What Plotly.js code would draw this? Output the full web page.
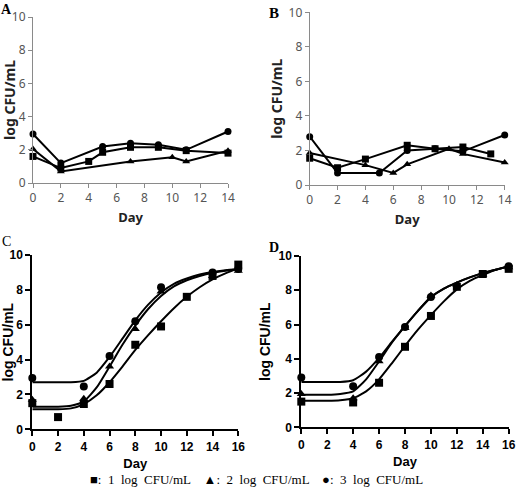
<!DOCTYPE html>
<html><head><meta charset="utf-8">
<script src="https://cdn.plot.ly/plotly-3.0.1.min.js"></script>
<style>html,body{margin:0;padding:0;background:#fff}#chart{width:516px;height:489px}</style>
</head><body><div id="chart"></div>
<script>
// ---------- Panel A ----------
const A_sq_day  = [0, 2, 4, 5, 7, 9, 11, 14];
const A_sq_val  = [1.6, 0.9, 1.3, 1.85, 2.15, 2.15, 1.95, 1.8];
const A_tri_day = [0, 2, 7, 10, 11, 14];
const A_tri_val = [2.05, 0.7, 1.3, 1.55, 1.3, 1.95];
const A_cir_day = [0, 2, 5, 7, 9, 11, 14];
const A_cir_val = [2.95, 1.2, 2.2, 2.4, 2.3, 2.0, 3.1];
// ---------- Panel B ----------
const B_sq_day  = [0, 2, 4, 7, 9, 11, 13];
const B_sq_val  = [1.55, 1.0, 1.5, 2.3, 2.1, 2.2, 1.8];
const B_tri_day = [0, 4, 6, 7, 10, 11, 14];
const B_tri_val = [1.85, 1.15, 0.7, 1.2, 2.1, 1.8, 1.3];
const B_cir_day = [0, 2, 5, 7, 9, 11, 14];
const B_cir_val = [2.8, 0.7, 0.7, 2.0, 2.1, 1.95, 2.9];
// ---------- Panel C ----------
const C_sq_day  = [0, 2, 4, 6, 8, 10, 12, 14, 16];
const C_sq_val  = [1.5, 0.7, 1.45, 2.6, 4.85, 5.9, 7.6, 8.8, 9.45];
const C_tri_day = [0, 4, 6, 8, 10, 14, 16];
const C_tri_val = [1.7, 1.75, 3.6, 5.75, 7.9, 8.8, 9.1];
const C_cir_day = [0, 4, 6, 8, 10, 14, 16];
const C_cir_val = [2.95, 2.45, 4.2, 6.2, 8.15, 9.0, 9.2];
const C_fit_day = [0, 1, 2, 3, 4, 5, 6, 7, 8, 9, 10, 11, 12, 13, 14, 15, 16];
const C_fit_sq  = [1.15, 1.15, 1.15, 1.2, 1.45, 1.95, 2.7, 3.6, 4.55, 5.4, 6.2, 6.95, 7.6, 8.15, 8.6, 8.95, 9.25];
const C_fit_tri = [1.3, 1.3, 1.3, 1.35, 1.6, 2.4, 3.6, 4.85, 5.95, 6.9, 7.65, 8.2, 8.55, 8.8, 8.98, 9.1, 9.18];
const C_fit_cir = [2.7, 2.7, 2.7, 2.7, 2.78, 3.25, 4.15, 5.2, 6.25, 7.15, 7.85, 8.35, 8.65, 8.88, 9.03, 9.13, 9.2];
// ---------- Panel D ----------
const D_sq_day  = [0, 4, 6, 8, 10, 12, 14, 16];
const D_sq_val  = [1.5, 1.45, 2.6, 4.7, 6.5, 8.2, 8.95, 9.25];
const D_tri_day = [0, 4, 6, 8, 10, 12, 14, 16];
const D_tri_val = [1.95, 1.7, 3.85, 5.8, 7.7, 8.3, 8.9, 9.35];
const D_cir_day = [0, 4, 6, 8, 10, 14, 16];
const D_cir_val = [2.9, 2.4, 4.1, 5.85, 7.6, 8.95, 9.4];
const D_fit_day = [0, 1, 2, 3, 4, 5, 6, 7, 8, 9, 10, 11, 12, 13, 14, 15, 16];
const D_fit_sq  = [1.55, 1.55, 1.55, 1.58, 1.7, 2.1, 2.8, 3.75, 4.75, 5.7, 6.55, 7.35, 8.05, 8.55, 8.9, 9.2, 9.4];
const D_fit_tri = [1.9, 1.9, 1.9, 1.95, 2.1, 2.8, 3.85, 4.95, 5.9, 6.8, 7.6, 8.1, 8.45, 8.75, 9.0, 9.2, 9.38];
const D_fit_cir = [2.65, 2.65, 2.65, 2.65, 2.75, 3.25, 4.05, 5.0, 5.92, 6.8, 7.6, 8.1, 8.45, 8.75, 9.0, 9.2, 9.38];

const xTicksTop = [0, 2, 4, 6, 8, 10, 12, 14];
const xTicksBot = [0, 2, 4, 6, 8, 10, 12, 14, 16];
const yTicks = [0, 2, 4, 6, 8, 10];
const legendText = '■:  1  log  CFU/mL    ▲:  2  log  CFU/mL    ●:  3  log  CFU/mL';

const W = 516, H = 489;
const px = v => v / W;
const py = v => (H - v) / H;

function lm(x, y, sym, xa, ya) {
  return {x: x, y: y, xaxis: xa, yaxis: ya, type: 'scatter', mode: 'lines+markers',
    line: {color: '#000', width: 2}, marker: {symbol: sym, size: 7, color: '#000'},
    cliponaxis: false, hoverinfo: 'skip'};
}
function mk(x, y, sym, xa, ya) {
  return {x: x, y: y, xaxis: xa, yaxis: ya, type: 'scatter', mode: 'markers',
    marker: {symbol: sym, size: 8, color: '#000'}, cliponaxis: false, hoverinfo: 'skip'};
}
function fit(x, y, xa, ya) {
  return {x: x, y: y, xaxis: xa, yaxis: ya, type: 'scatter', mode: 'lines',
    line: {color: '#000', width: 2, shape: 'spline', smoothing: 0.55}, hoverinfo: 'skip'};
}

const data = [
  lm(A_sq_day, A_sq_val, 'square', 'x', 'y'),
  lm(A_tri_day, A_tri_val, 'triangle-up', 'x', 'y'),
  lm(A_cir_day, A_cir_val, 'circle', 'x', 'y'),
  lm(B_sq_day, B_sq_val, 'square', 'x2', 'y2'),
  lm(B_tri_day, B_tri_val, 'triangle-up', 'x2', 'y2'),
  lm(B_cir_day, B_cir_val, 'circle', 'x2', 'y2'),
  fit(C_fit_day, C_fit_sq, 'x3', 'y3'),
  fit(C_fit_day, C_fit_tri, 'x3', 'y3'),
  fit(C_fit_day, C_fit_cir, 'x3', 'y3'),
  mk(C_sq_day, C_sq_val, 'square', 'x3', 'y3'),
  mk(C_tri_day, C_tri_val, 'triangle-up', 'x3', 'y3'),
  mk(C_cir_day, C_cir_val, 'circle', 'x3', 'y3'),
  fit(D_fit_day, D_fit_sq, 'x4', 'y4'),
  fit(D_fit_day, D_fit_tri, 'x4', 'y4'),
  fit(D_fit_day, D_fit_cir, 'x4', 'y4'),
  mk(D_sq_day, D_sq_val, 'square', 'x4', 'y4'),
  mk(D_tri_day, D_tri_val, 'triangle-up', 'x4', 'y4'),
  mk(D_cir_day, D_cir_val, 'circle', 'x4', 'y4')
];

const topFont = 'Noto Sans, DejaVu Sans, sans-serif';
const botFont = 'Liberation Sans Narrow, Liberation Sans, Arial, sans-serif';

function topX(dom, anchor) {
  return {domain: dom, anchor: anchor, range: [0, 14], tickvals: xTicksTop, showgrid: false, zeroline: false,
    showline: true, linecolor: '#8a8a8a', linewidth: 1, ticks: 'outside', ticklen: 4, tickcolor: '#8a8a8a',
    tickfont: {family: topFont, size: 12, color: '#555'},
    title: {text: 'Day', font: {family: topFont, size: 13, color: '#222', weight: 'bold'}, standoff: 7}};
}
function topY(dom, anchor) {
  return {domain: dom, anchor: anchor, range: [0, 10], tickvals: yTicks, showgrid: false, zeroline: false,
    showline: true, linecolor: '#8a8a8a', linewidth: 1, ticks: 'outside', ticklen: 4, tickcolor: '#8a8a8a',
    tickfont: {family: topFont, size: 12, color: '#555'},
    title: {text: 'log CFU/mL', font: {family: topFont, size: 14, color: '#222', weight: 'bold'}, standoff: 2}};
}
function botX(dom, anchor) {
  return {domain: dom, anchor: anchor, range: [0, 16], tickvals: xTicksBot, showgrid: false, zeroline: false,
    showline: true, linecolor: '#000', linewidth: 2, ticks: 'outside', ticklen: 5, tickwidth: 2, tickcolor: '#000',
    tickfont: {family: botFont, size: 12, color: '#000', weight: 'bold'},
    title: {text: 'Day', font: {family: 'Liberation Sans, Arial, sans-serif', size: 13, color: '#000', weight: 'bold'}, standoff: 6}};
}
function botY(dom, anchor) {
  return {domain: dom, anchor: anchor, range: [0, 10], tickvals: yTicks, showgrid: false, zeroline: false,
    showline: true, linecolor: '#000', linewidth: 2, ticks: 'outside', ticklen: 5, tickwidth: 2, tickcolor: '#000',
    tickfont: {family: botFont, size: 12, color: '#000', weight: 'bold'},
    title: {text: 'log CFU/mL', font: {family: 'Liberation Sans, Arial, sans-serif', size: 14, color: '#000', weight: 'bold'}, standoff: 5}};
}

const layout = {
  width: W, height: H, margin: {l: 0, r: 0, t: 0, b: 0}, paper_bgcolor: '#fff', plot_bgcolor: 'rgba(0,0,0,0)',
  showlegend: false,
  xaxis:  topX([px(33), px(228)], 'y'),
  yaxis:  topY([py(183), py(17)], 'x'),
  xaxis2: topX([px(309.7), px(504.7)], 'y2'),
  yaxis2: topY([py(185), py(12.3)], 'x2'),
  xaxis3: botX([px(32.3), px(238.3)], 'y3'),
  yaxis3: botY([py(429.3), py(255)], 'x3'),
  xaxis4: botX([px(301.3), px(508.7)], 'y4'),
  yaxis4: botY([py(427.3), py(256)], 'x4'),
  annotations: [
    {text: 'A', x: px(6), y: py(9), xref: 'paper', yref: 'paper', showarrow: false, xanchor: 'center', yanchor: 'middle',
     font: {family: 'Liberation Serif, serif', size: 14, color: '#000', weight: 'bold'}},
    {text: 'B', x: px(274), y: py(12.5), xref: 'paper', yref: 'paper', showarrow: false, xanchor: 'center', yanchor: 'middle',
     font: {family: 'Liberation Serif, serif', size: 15, color: '#000', weight: 'bold'}},
    {text: 'C', x: px(6), y: py(241), xref: 'paper', yref: 'paper', showarrow: false, xanchor: 'center', yanchor: 'middle',
     font: {family: 'Liberation Serif, serif', size: 14, color: '#000'}},
    {text: 'D', x: px(274), y: py(247), xref: 'paper', yref: 'paper', showarrow: false, xanchor: 'center', yanchor: 'middle',
     font: {family: 'Liberation Serif, serif', size: 14, color: '#000', weight: 'bold'}},
    {text: legendText, x: px(256), y: py(479), xref: 'paper', yref: 'paper', showarrow: false, xanchor: 'center', yanchor: 'middle',
     font: {family: 'Liberation Serif, serif', size: 13, color: '#000'}}
  ]
};

Plotly.newPlot('chart', data, layout, {staticPlot: true, displayModeBar: false});
</script>
</body></html>
